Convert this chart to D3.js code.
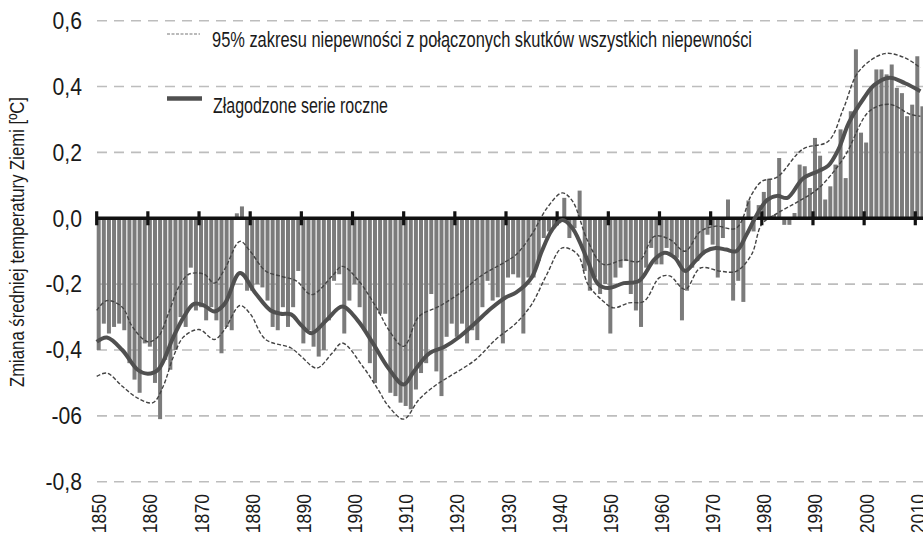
<!doctype html>
<head>
<meta charset="utf-8">
<title>Zmiana średniej temperatury Ziemi</title>
<script src="https://d3js.org/d3.v7.min.js"></script>
<style>
	body { margin: 0; background: #fff; }
	text { font-family: "Liberation Sans", Arial, sans-serif; fill: #1a1a1a; }
</style>
</head>
<body>
<svg id="chart" width="923" height="535"></svg>
<script>
	// roczne anomalie 1850-2011
	const years = d3.range(1850, 2012)
	const anomalies = [
		-0.40, -0.32, -0.35, -0.33, -0.32, -0.34, -0.44, -0.49, -0.53, -0.38, // 1850
		-0.39, -0.50, -0.61, -0.43, -0.46, -0.40, -0.30, -0.33, -0.15, -0.28, // 1860
		-0.27, -0.31, -0.27, -0.31, -0.41, -0.33, -0.34, 0.015, 0.036, -0.22, // 1870
		-0.22, -0.20, -0.21, -0.25, -0.33, -0.34, -0.27, -0.33, -0.27, -0.16, // 1880
		-0.38, -0.34, -0.39, -0.42, -0.40, -0.31, -0.19, -0.17, -0.35, -0.25, // 1890
		-0.20, -0.27, -0.34, -0.44, -0.50, -0.29, -0.29, -0.53, -0.54, -0.56, // 1900
		-0.57, -0.58, -0.52, -0.47, -0.44, -0.23, -0.465, -0.54, -0.36, -0.32, // 1910
		-0.36, -0.32, -0.38, -0.34, -0.37, -0.27, -0.19, -0.25, -0.24, -0.38, // 1920
		-0.18, -0.17, -0.18, -0.35, -0.18, -0.18, -0.13, -0.06, -0.04, -0.03, // 1930
		-0.015, 0.062, -0.06, -0.03, 0.084, -0.16, -0.22, -0.18, -0.23, -0.20, // 1940
		-0.35, -0.18, -0.15, -0.13, -0.23, -0.28, -0.33, -0.15, -0.09, -0.14, // 1950
		-0.14, -0.09, -0.11, -0.12, -0.31, -0.22, -0.15, -0.13, -0.11, -0.05, // 1960
		-0.08, -0.18, -0.06, 0.057, -0.25, -0.19, -0.254, 0.054, -0.04, 0.04, // 1970
		0.08, 0.12, 0.01, 0.183, -0.02, -0.02, 0.016, 0.163, 0.158, 0.092, // 1980
		0.244, 0.19, 0.057, 0.097, 0.163, 0.27, 0.122, 0.325, 0.513, 0.26, // 1990
		0.23, 0.396, 0.452, 0.452, 0.437, 0.467, 0.396, 0.38, 0.31, 0.345, // 2000
		0.492, 0.34 // 2010
	]

	// wygładzona seria roczna
	const smoothYears = [1850, 1852, 1855, 1858, 1860, 1862, 1865, 1867, 1869, 1871, 1873, 1875, 1878, 1881, 1884, 1886, 1888, 1890, 1892, 1895, 1898, 1901, 1904, 1907, 1910, 1912, 1915, 1918, 1921, 1924, 1927, 1930, 1932, 1935, 1937, 1939, 1941, 1943, 1946, 1948, 1950, 1953, 1956, 1959, 1961, 1963, 1965, 1967, 1969, 1971, 1973, 1975, 1977, 1979, 1981, 1983, 1985, 1988, 1991, 1993, 1995, 1997, 2000, 2002, 2005, 2008, 2011]
	const smoothValues = [-0.375, -0.362, -0.40, -0.46, -0.472, -0.46, -0.36, -0.30, -0.26, -0.265, -0.283, -0.26, -0.166, -0.227, -0.28, -0.29, -0.292, -0.325, -0.349, -0.308, -0.268, -0.31, -0.38, -0.455, -0.505, -0.465, -0.41, -0.39, -0.359, -0.318, -0.275, -0.24, -0.225, -0.18, -0.10, -0.035, -0.005, -0.03, -0.13, -0.20, -0.212, -0.197, -0.19, -0.125, -0.105, -0.12, -0.16, -0.13, -0.10, -0.09, -0.095, -0.10, -0.05, 0.01, 0.055, 0.068, 0.062, 0.12, 0.143, 0.16, 0.21, 0.29, 0.366, 0.405, 0.427, 0.41, 0.386]

	// 95% zakres niepewności
	const upperYears = [1850, 1852, 1855, 1857, 1860, 1862, 1864, 1866, 1868, 1871, 1873, 1875, 1878, 1880, 1883, 1886, 1889, 1892, 1896, 1898, 1901, 1905, 1907, 1910, 1913, 1917, 1921, 1925, 1930, 1932, 1935, 1938, 1941, 1943, 1946, 1949, 1953, 1956, 1959, 1962, 1965, 1968, 1971, 1975, 1978, 1980, 1983, 1988, 1993, 1996, 1999, 2004, 2008, 2011]
	const upperValues = [-0.28, -0.25, -0.27, -0.33, -0.375, -0.36, -0.29, -0.21, -0.17, -0.17, -0.197, -0.155, -0.07, -0.10, -0.16, -0.176, -0.19, -0.232, -0.176, -0.146, -0.186, -0.28, -0.337, -0.389, -0.298, -0.267, -0.227, -0.176, -0.131, -0.11, -0.05, 0.031, 0.077, 0.052, -0.07, -0.14, -0.126, -0.131, -0.055, -0.064, -0.10, -0.04, -0.024, -0.03, 0.072, 0.112, 0.125, 0.21, 0.234, 0.335, 0.447, 0.50, 0.487, 0.457]
	const lowerYears = [1850, 1852, 1855, 1858, 1861, 1863, 1865, 1867, 1870, 1873, 1875, 1878, 1880, 1883, 1888, 1890, 1893, 1896, 1898, 1902, 1905, 1907, 1910, 1913, 1916, 1919, 1924, 1928, 1932, 1935, 1938, 1941, 1944, 1946, 1949, 1951, 1954, 1957, 1960, 1962, 1965, 1968, 1972, 1975, 1978, 1980, 1983, 1987, 1991, 1996, 2001, 2005, 2009, 2011]
	const lowerValues = [-0.48, -0.47, -0.51, -0.546, -0.56, -0.51, -0.42, -0.36, -0.338, -0.368, -0.338, -0.265, -0.29, -0.368, -0.394, -0.42, -0.455, -0.41, -0.379, -0.45, -0.52, -0.57, -0.61, -0.55, -0.51, -0.48, -0.43, -0.368, -0.318, -0.262, -0.17, -0.09, -0.11, -0.20, -0.252, -0.272, -0.257, -0.252, -0.18, -0.175, -0.216, -0.151, -0.161, -0.161, -0.11, -0.018, 0.015, 0.05, 0.09, 0.183, 0.325, 0.346, 0.316, 0.31]

	const yTicks = [0.6, 0.4, 0.2, 0.0, -0.2, -0.4, -0.6, -0.8]
	const yTickLabels = ["0,6", "0,4", "0,2", "0,0", "-0,2", "-0,4", "-06", "-0,8"]
	const xTicks = [1850, 1860, 1870, 1880, 1890, 1900, 1910, 1920, 1930, 1940, 1950, 1960, 1970, 1980, 1990, 2000, 2010]

	const legendLabels = ["95% zakresu niepewności z połączonych skutków wszystkich niepewności", "Złagodzone serie roczne"]
	const yTitle = "Zmiana średniej temperatury Ziemi [ºC]"

	const width = 923, height = 535
	const svg = d3.select("#chart")
	const x = d3.scaleLinear().domain([1850, 2010]).range([96.7, 915.3])
	const y = d3.scaleLinear().domain([-0.8, 0.6]).range([481.7, 20.7])

	// linie siatki
	svg.append("g").selectAll("line")
		.data(yTicks.filter(d => d !== 0))
		.join("line")
		.attr("x1", 97).attr("x2", width)
		.attr("y1", d => y(d)).attr("y2", d => y(d))
		.attr("stroke", "#bdbdbd").attr("stroke-width", 1.6)
		.attr("stroke-dasharray", "10,7")

	// słupki
	svg.append("g").selectAll("rect")
		.data(years.map((yr, i) => ({yr, v: anomalies[i]})))
		.join("rect")
		.attr("x", d => x(d.yr))
		.attr("width", 4)
		.attr("y", d => Math.min(y(d.v), y(0)))
		.attr("height", d => Math.abs(y(d.v) - y(0)))
		.attr("fill", "#7b7b7b")

	const line = d3.line().x(d => x(d[0])).y(d => y(d[1])).curve(d3.curveCatmullRom.alpha(0.5))

	// pasmo niepewności
	svg.append("path")
		.attr("d", line(upperYears.map((yr, i) => [yr, upperValues[i]])))
		.attr("fill", "none").attr("stroke", "#444").attr("stroke-width", 1.4)
		.attr("stroke-dasharray", "4,2")
	svg.append("path")
		.attr("d", line(lowerYears.map((yr, i) => [yr, lowerValues[i]])))
		.attr("fill", "none").attr("stroke", "#444").attr("stroke-width", 1.4)
		.attr("stroke-dasharray", "4,2")

	// linia zerowa z podziałką
	svg.append("line")
		.attr("x1", 96).attr("x2", width)
		.attr("y1", y(0)).attr("y2", y(0))
		.attr("stroke", "#111").attr("stroke-width", 3.5)
	svg.append("g").selectAll("rect")
		.data(xTicks)
		.join("rect")
		.attr("x", d => x(d) - 1.6).attr("width", 3.2)
		.attr("y", y(0) - 7).attr("height", 14)
		.attr("fill", "#111")

	// wygładzona seria
	svg.append("path")
		.attr("d", line(smoothYears.map((yr, i) => [yr, smoothValues[i]])))
		.attr("fill", "none").attr("stroke", "#505050").attr("stroke-width", 4)
		.attr("stroke-linejoin", "round")

	// etykiety osi Y
	svg.append("g").selectAll("text")
		.data(yTicks)
		.join("text")
		.attr("transform", d => `translate(82,${y(d) + 8.3}) scale(0.92,1)`)
		.attr("text-anchor", "end")
		.attr("font-size", 23)
		.text((d, i) => yTickLabels[i])

	// etykiety osi X
	svg.append("g").selectAll("text")
		.data(xTicks)
		.join("text")
		.attr("transform", d => `translate(${x(d) + 9.5},494) rotate(-90) scale(0.84,1)`)
		.attr("text-anchor", "end")
		.attr("font-size", 21)
		.text(d => d)

	// tytuł osi Y
	svg.append("text")
		.attr("transform", "translate(23.5,242) rotate(-90)")
		.attr("text-anchor", "middle")
		.attr("font-size", 20)
		.attr("textLength", 290).attr("lengthAdjust", "spacingAndGlyphs")
		.text(yTitle)

	// legenda
	svg.append("line")
		.attr("x1", 167).attr("x2", 200).attr("y1", 34).attr("y2", 34)
		.attr("stroke", "#777").attr("stroke-width", 1.2).attr("stroke-dasharray", "3,1.5")
	svg.append("text")
		.attr("x", 212).attr("y", 46.5)
		.attr("font-size", 22)
		.attr("textLength", 540).attr("lengthAdjust", "spacingAndGlyphs")
		.text(legendLabels[0])
	svg.append("line")
		.attr("x1", 167).attr("x2", 202).attr("y1", 98.5).attr("y2", 98.5)
		.attr("stroke", "#505050").attr("stroke-width", 4.5)
	svg.append("text")
		.attr("x", 213).attr("y", 112.5)
		.attr("font-size", 22)
		.attr("textLength", 175).attr("lengthAdjust", "spacingAndGlyphs")
		.text(legendLabels[1])
</script>
</body>
